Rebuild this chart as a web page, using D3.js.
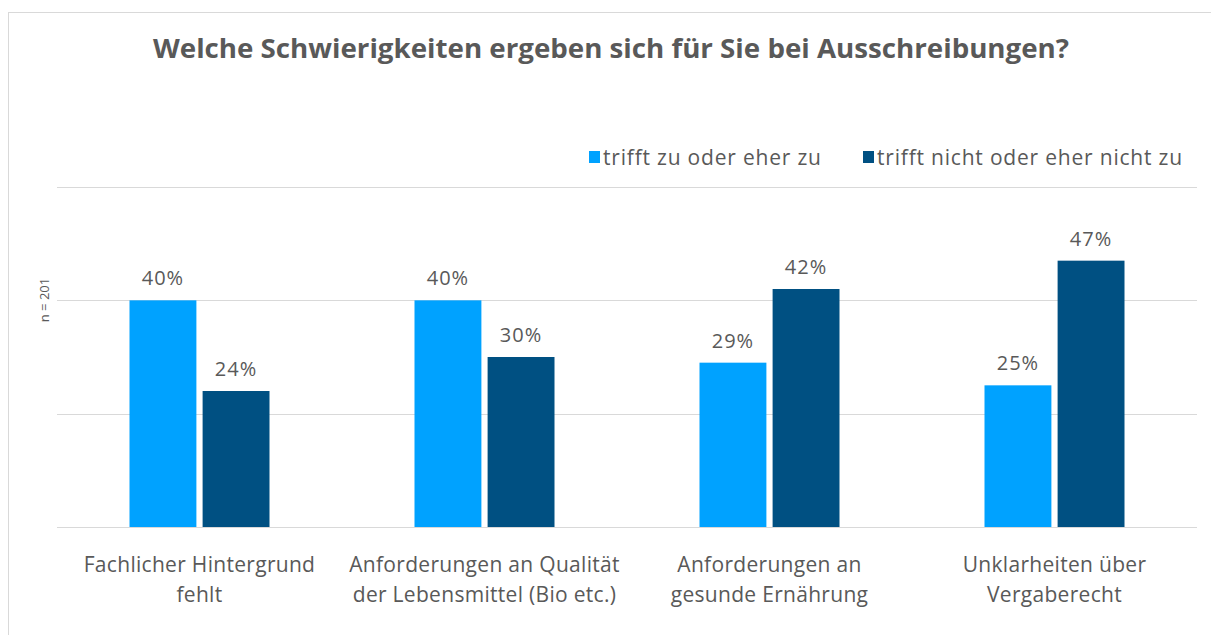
<!DOCTYPE html>
<html>
<head>
<meta charset="utf-8">
<script src="https://cdn.jsdelivr.net/npm/d3@7"></script>
<style>
  body { margin: 0; background: #fff; }
  text { font-family: "Open Sans", sans-serif; fill: #595959; }
</style>
</head>
<body>
<script>
// data
var categories = [
    ["Fachlicher Hintergrund", "fehlt"],
    ["Anforderungen an Qualität", "der Lebensmittel (Bio etc.)"],
    ["Anforderungen an", "gesunde Ernährung"],
    ["Unklarheiten über", "Vergaberecht"]
];
var seriesNames = ["trifft zu oder eher zu", "trifft nicht oder eher nicht zu"];
var zuValues = [40, 40, 29, 25];
var nichtValues = [24, 30, 42, 47];
var yTicks = [0, 20, 40, 60];
var colors = ["#00A2FF", "#005082"];

var width = 1211, height = 635;

var svg = d3.select("body")
    .append("svg")
    .attr("width", width)
    .attr("height", height);

// outer frame
svg.append("rect")
    .attr("x", 8.5)
    .attr("y", 12.5)
    .attr("width", 1220)
    .attr("height", 640)
    .attr("fill", "none")
    .attr("stroke", "#d9d9d9");

// title
svg.append("text")
    .attr("x", 611)
    .attr("y", 58)
    .attr("text-anchor", "middle")
    .attr("textLength", 916)
    .attr("lengthAdjust", "spacingAndGlyphs")
    .style("font-size", "27px")
    .style("font-weight", "bold")
    .text("Welche Schwierigkeiten ergeben sich für Sie bei Ausschreibungen?");

var x0 = d3.scaleBand()
    .domain(d3.range(categories.length))
    .range([57, 1197]);

var x1 = d3.scaleBand()
    .domain([0, 1])
    .range([x0.bandwidth() / 2 - 70, x0.bandwidth() / 2 + 70])
    .paddingInner(0.085);

var y = d3.scaleLinear()
    .domain([0, 60])
    .range([527, 187]);

// gridlines
svg.append("g")
    .selectAll("line")
    .data(yTicks)
    .enter()
    .append("line")
    .attr("x1", 57)
    .attr("x2", 1197)
    .attr("y1", function (d) { return Math.round(y(d)) + 0.5; })
    .attr("y2", function (d) { return Math.round(y(d)) + 0.5; })
    .attr("stroke", "#d9d9d9")
    .attr("stroke-width", 1);

var rows = categories.map(function (c, i) {
    return [zuValues[i], nichtValues[i]];
});

var groups = svg.append("g")
    .selectAll("g")
    .data(rows)
    .enter()
    .append("g")
    .attr("transform", function (d, i) { return "translate(" + x0(i) + ",0)"; });

groups.selectAll("rect")
    .data(function (d) { return d; })
    .enter()
    .append("rect")
    .attr("x", function (d, j) { return x1(j); })
    .attr("y", function (d) { return y(d); })
    .attr("width", x1.bandwidth())
    .attr("height", function (d) { return y(0) - y(d); })
    .attr("fill", function (d, j) { return colors[j]; });

groups.selectAll("text.val")
    .data(function (d) { return d; })
    .enter()
    .append("text")
    .attr("class", "val")
    .attr("x", function (d, j) { return x1(j) + x1.bandwidth() / 2; })
    .attr("y", function (d) { return y(d) - 15; })
    .attr("text-anchor", "middle")
    .style("font-size", "20px")
    .style("letter-spacing", "1px")
    .text(function (d) { return d + "%"; });

// category labels
var labels = svg.append("g")
    .selectAll("text")
    .data(categories)
    .enter()
    .append("text")
    .attr("x", function (d, i) { return x0(i) + x0.bandwidth() / 2; })
    .attr("y", 572)
    .attr("text-anchor", "middle")
    .style("font-size", "21px")
    .style("letter-spacing", "0.3px");

labels.selectAll("tspan")
    .data(function (d) { return d; })
    .enter()
    .append("tspan")
    .attr("x", function () { return d3.select(this.parentNode).attr("x"); })
    .attr("dy", function (d, k) { return k === 0 ? 0 : 30; })
    .text(function (d) { return d; });

// legend
var legendX = [589, 863];
var legend = svg.append("g")
    .selectAll("g")
    .data(seriesNames)
    .enter()
    .append("g")
    .attr("transform", function (d, i) { return "translate(" + legendX[i] + ",151)"; });

legend.append("rect")
    .attr("width", 11)
    .attr("height", 12)
    .attr("fill", function (d, i) { return colors[i]; });

legend.append("text")
    .attr("x", 14)
    .attr("y", 14)
    .style("font-size", "21px")
    .style("letter-spacing", "0.8px")
    .text(function (d) { return d; });

// n label
svg.append("text")
    .attr("transform", "translate(49,300) rotate(-90)")
    .attr("text-anchor", "middle")
    .style("font-size", "13px")
    .text("n = 201");
</script>
</body>
</html>
